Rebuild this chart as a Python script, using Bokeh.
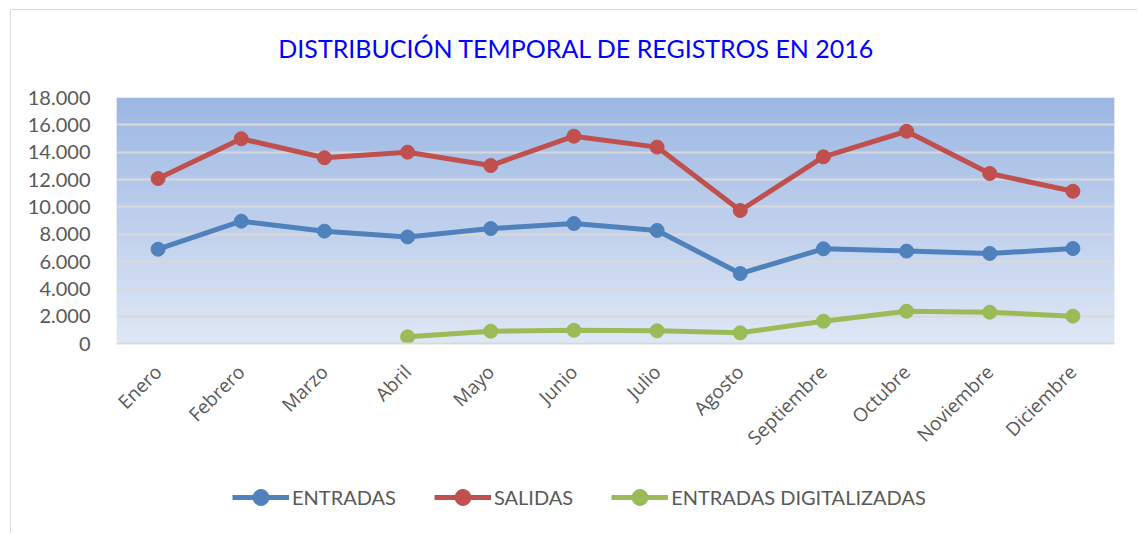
import math
import numpy as np
from bokeh.plotting import figure
from bokeh.layouts import column
from bokeh.models import Range1d, FixedTicker, Legend, LegendItem, BoxAnnotation, Label
from bokeh.embed import file_html
from bokeh.resources import INLINE

months = ["Enero", "Febrero", "Marzo", "Abril", "Mayo", "Junio", "Julio",
          "Agosto", "Septiembre", "Octubre", "Noviembre", "Diciembre"]
entradas = [6900, 8950, 8220, 7800, 8410, 8780, 8270, 5120, 6930, 6760, 6590, 6950]
salidas = [12070, 14980, 13590, 14000, 13020, 15170, 14370, 9730, 13660, 15530, 12440, 11140]
digitalizadas = [float("nan"), float("nan"), float("nan"), 490, 900, 970, 930, 780, 1630, 2360, 2290, 2000]
y_ticks = [0, 2000, 4000, 6000, 8000, 10000, 12000, 14000, 16000, 18000]
y_tick_labels = ["0", "2.000", "4.000", "6.000", "8.000", "10.000", "12.000", "14.000", "16.000", "18.000"]
series_names = ["ENTRADAS", "SALIDAS", "ENTRADAS DIGITALIZADAS"]
colors = ["#4f81bd", "#c0504d", "#9bbb59"]
title_text = "DISTRIBUCIÓN TEMPORAL DE REGISTROS EN 2016"

FONT = "Lato"
XFONT = "Open Sans"
W = 1127
BL, BR = 105, 24
x = list(range(len(months)))

# ---- title strip ----
tf = figure(width=W, height=70, output_backend="svg", toolbar_location=None,
            x_range=Range1d(0, 1), y_range=Range1d(0, 1), x_axis_type=None, y_axis_type=None,
            min_border_left=BL, min_border_right=BR, min_border_top=0, min_border_bottom=0)
tf.margin = (9, 0, 0, 10)
tf.styles = {"border-left": "1px solid #d9d9d9", "border-top": "1px solid #d9d9d9"}
tf.outline_line_color = None
tf.xgrid.visible = False
tf.ygrid.visible = False
tf.add_layout(Label(x=0.461, y=0.46, text=title_text, text_align="center", text_baseline="middle",
                    text_font=FONT, text_font_size="25px", text_color="#0000ff"))

# ---- main chart ----
p = figure(width=W, height=390, output_backend="svg", toolbar_location=None,
           x_range=Range1d(-0.5, len(months) - 0.5), y_range=Range1d(0, 18000),
           min_border_left=BL, min_border_right=BR, min_border_top=18, min_border_bottom=126)
p.margin = (0, 0, 0, 10)
p.styles = {"border-left": "1px solid #d9d9d9"}
p.outline_line_color = None
p.background_fill_color = "white"

n_bands = 90
edges = np.linspace(0, 18000, n_bands + 1)
step = edges[1] - edges[0]
top_c = np.array([156, 183, 227])
bot_c = np.array([223, 231, 245])
for i in range(n_bands):
    t = (i + 0.5) / n_bands
    c = bot_c + (top_c - bot_c) * t
    col = "#%02x%02x%02x" % tuple(int(round(v)) for v in c)
    p.add_layout(BoxAnnotation(bottom=edges[i], top=min(edges[i + 1] + step * 0.6, edges[-1]),
                               fill_color=col, fill_alpha=1, line_color=None, level="image"))

p.xgrid.grid_line_color = None
p.ygrid.grid_line_color = "#d9d9d9"
p.ygrid.grid_line_width = 2
p.ygrid.ticker = FixedTicker(ticks=y_ticks)
p.yaxis.ticker = FixedTicker(ticks=y_ticks)
p.yaxis.major_label_overrides = dict(zip(y_ticks, y_tick_labels))
p.yaxis.axis_line_color = None
p.yaxis.major_tick_line_color = None
p.yaxis.minor_tick_line_color = None
p.yaxis.major_label_text_font = FONT
p.yaxis.major_label_text_font_size = "20px"
p.yaxis.major_label_text_color = "#595959"
p.yaxis.major_label_standoff = 20

p.xaxis.ticker = FixedTicker(ticks=x)
p.xaxis.major_label_overrides = dict(zip(x, months))
p.xaxis.major_label_orientation = math.pi / 4
p.xaxis.axis_line_color = "#d9d9d9"
p.xaxis.axis_line_width = 2
p.xaxis.major_tick_line_color = None
p.xaxis.minor_tick_line_color = None
p.xaxis.major_label_text_font = XFONT
p.xaxis.major_label_text_font_size = "19px"
p.xaxis.major_label_text_color = "#595959"
p.xaxis.major_label_standoff = 19

for name, vals, col in zip(series_names, [entradas, salidas, digitalizadas], colors):
    p.line(x, vals, line_color=col, line_width=5)
    p.scatter(x, vals, size=14, fill_color=col, line_color=col)

# ---- legend strip ----
lg = figure(width=W, height=64, output_backend="svg", toolbar_location=None,
            x_range=Range1d(0, 1), y_range=Range1d(0, 1), x_axis_type=None, y_axis_type=None,
            min_border_left=BL, min_border_right=BR, min_border_top=0, min_border_bottom=0)
lg.margin = (0, 0, 0, 10)
lg.styles = {"border-left": "1px solid #d9d9d9"}
lg.outline_line_color = None
lg.xgrid.visible = False
lg.ygrid.visible = False
items = []
for name, col in zip(series_names, colors):
    # keyed to a point outside the visible strip: only the legend swatch shows
    ln = lg.line([5, 6], [5, 6], line_color=col, line_width=5)
    sc = lg.scatter([5], [5], size=15, fill_color=col, line_color=col)
    items.append(LegendItem(label=name, renderers=[ln, sc]))
legend = Legend(items=items, orientation="horizontal", location=(116, 16),
                label_text_font=FONT, label_text_font_size="20px", label_text_color="#595959",
                glyph_width=57, glyph_height=40, label_standoff=3, spacing=38,
                padding=0, margin=0, border_line_color=None, background_fill_alpha=0)
lg.add_layout(legend, "center")

open("out.html", "w").write(file_html(column(tf, p, lg, spacing=0), INLINE))
